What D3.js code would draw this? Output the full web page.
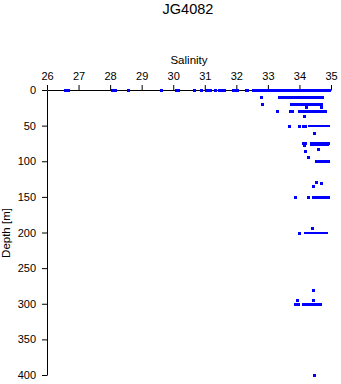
<!DOCTYPE html>
<html><head><meta charset="utf-8">
<script src="https://cdn.jsdelivr.net/npm/d3@7"></script>
<style>
html,body{margin:0;padding:0;background:#fff;}
svg{display:block;}
text{font-family:"Liberation Sans",Arial,Helvetica,sans-serif;fill:#000;}
</style></head>
<body>
<script>
// ---- data ----
const title = "JG4082";
const xLabel = "Salinity";
const yLabel = "Depth [m]";
const xTicks = [26,27,28,29,30,31,32,33,34,35];
const yTicks = [0,50,100,150,200,250,300,350,400];

// isolated samples: [salinity, depth]
const points = [
  [28.58,0],[29.64,0],[30.89,0],[30.68,0],[31.33,0],
  [32.79,10.4],
  [32.83,20.2],
  [34.22,24.4],[34.70,24.4],
  [33.31,30],[33.72,30],[33.78,30],
  [34.16,36.1],
  [33.68,50.1],[34.0,50.1],[34.13,50.1],[34.18,50.1],
  [34.48,60.4],
  [34.13,74.4],[34.19,74.4],[34.16,76.8],
  [34.61,82.8],
  [34.19,86.2],
  [34.29,94.0],
  [34.54,129.1],[34.70,130.5],[34.45,134.3],
  [33.88,150.2],[34.29,150.2],
  [34.42,193.7],
  [34.0,200.7],
  [34.45,280.3],
  [33.94,294.3],[34.45,294.3],
  [34.48,400]
];
// dense runs of samples: [depth, salinity from, salinity to]
const runs = [
  [0,26.59,26.68],[0,28.08,28.17],[0,30.10,30.17],[0,31.06,31.18],
  [0,31.48,31.62],[0,31.92,32.04],[0,32.32,32.35],[0,32.55,34.94],
  [10.4,33.37,34.73],
  [20.2,33.75,34.70],
  [30,34.0,34.83],
  [50.1,34.33,34.92],
  [74.4,34.38,34.92],[76.8,34.38,34.88],
  [100.2,34.54,34.92],
  [150.2,34.45,34.92],
  [200.7,34.19,34.86],
  [300.4,33.88,33.97],[300.4,34.12,34.67]
];

// ---- chart ----
const W = 341, H = 384;
const svg = d3.select("body").append("svg").attr("width", W).attr("height", H);

const x = d3.scaleLinear().domain([26,35]).range([47,331]);
const y = d3.scaleLinear().domain([0,400]).range([90,375]);

svg.append("text").attr("x", 188).attr("y", 13.5).attr("text-anchor","middle")
  .style("font-size","14.5px").text(title);
svg.append("text").attr("x", 189).attr("y", 64).attr("text-anchor","middle")
  .style("font-size","11.5px").text(xLabel);
svg.append("text").attr("transform","translate(10,233) rotate(-90)").attr("text-anchor","middle")
  .style("font-size","11.5px").text(yLabel);

const gx = svg.append("g").attr("transform","translate(0,90)")
  .call(d3.axisTop(x).tickValues(xTicks).tickFormat(d3.format("d")).tickSize(5).tickSizeOuter(0).tickPadding(5));
const gy = svg.append("g").attr("transform","translate(47,0)")
  .call(d3.axisLeft(y).tickValues(yTicks).tickFormat(d3.format("d")).tickSize(5).tickSizeOuter(0).tickPadding(6));
[gx,gy].forEach(g=>{
  g.selectAll("text").style("font-size","11px").style("font-family",'"Liberation Sans",Arial,sans-serif').attr("fill","#000");
  g.selectAll("line,path").attr("stroke","#000");
});

const marks = svg.append("g").attr("fill","#0000ff").attr("shape-rendering","crispEdges");
marks.selectAll("rect.run").data(runs).join("rect").attr("class","run")
  .attr("x", d => x(d[1]) - 1.5)
  .attr("width", d => x(d[2]) - x(d[1]) + 3)
  .attr("y", d => y(d[0]) - 1)
  .attr("height", 2.5);
marks.selectAll("rect.pt").data(points).join("rect").attr("class","pt")
  .attr("x", d => x(d[0]) - 1.5)
  .attr("width", 3)
  .attr("y", d => y(d[1]) - 1)
  .attr("height", 3);
</script>
</body></html>
